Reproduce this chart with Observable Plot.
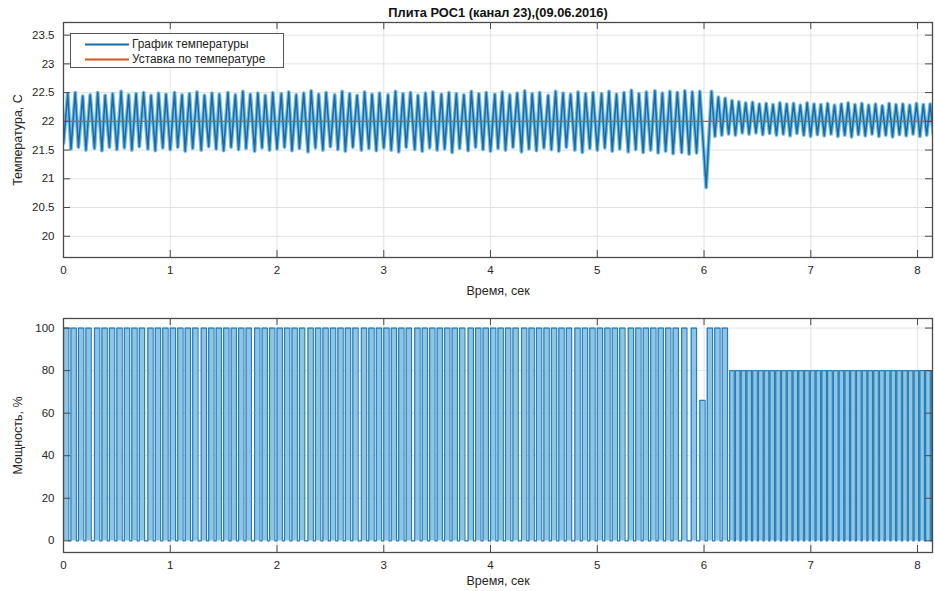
<!DOCTYPE html>
<html>
<head>
<meta charset="utf-8">
<script src="https://cdn.jsdelivr.net/npm/d3@7"></script>
<script src="https://cdn.jsdelivr.net/npm/@observablehq/plot@0.6"></script>
<style>
  body { margin: 0; background: #fff; }
  #chart { position: relative; width: 935px; height: 591px; font-family: "Liberation Sans", Arial, sans-serif; }
  #chart > svg { position: absolute; left: 0; }
  .legend { position: absolute; left: 70px; top: 33px; width: 212px; height: 33px; border: 1px solid #555; background: #fff; font-size: 12.5px; color: #222; }
  .legend .item { position: absolute; left: 0; height: 15px; width: 100%; }
  .legend .item svg { position: absolute; left: 14px; top: 6px; }
  .legend .item span { position: absolute; left: 61px; top: 0; line-height: 15px; white-space: nowrap; transform: scaleX(0.95); transform-origin: left center; }
</style>
</head>
<body>
<div id="chart"></div>
<script>
// ---- Plate temperature record, channel 23 ----
const chartTitle = "Плита РОС1 (канал 23),(09.06.2016)";
const xLabel = "Время, сек";
const tempLabel = "Температура, C";
const powerLabel = "Мощность, %";
const legendLabels = ["График температуры", "Уставка по температуре"];

const timeTicks = [0, 1, 2, 3, 4, 5, 6, 7, 8];
const tempTicks = [20, 20.5, 21, 21.5, 22, 22.5, 23, 23.5];
const powerTicks = [0, 20, 40, 60, 80, 100];

const setpoint = 22;

// temperature samples (turning points of the oscillation), seconds
const tempTime = [
  0.00,0.04,0.07,0.11,0.14,0.18,0.21,0.25,0.29,0.32,0.36,0.39,0.43,0.46,0.50,0.54,0.57,0.61,0.64,0.68,0.71,0.75,0.79,0.82,0.86,0.89,0.93,0.96,
  1.00,1.04,1.07,1.11,1.14,1.18,1.21,1.25,1.29,1.32,1.36,1.39,1.43,1.46,1.50,1.54,1.57,1.61,1.64,1.68,1.71,1.75,1.79,1.82,1.86,1.89,1.93,1.96,
  2.00,2.04,2.07,2.11,2.14,2.18,2.21,2.25,2.29,2.32,2.36,2.39,2.43,2.46,2.50,2.54,2.57,2.61,2.64,2.68,2.71,2.75,2.79,2.82,2.86,2.89,2.93,2.96,
  3.00,3.04,3.07,3.11,3.14,3.18,3.21,3.25,3.29,3.32,3.36,3.39,3.43,3.46,3.50,3.54,3.57,3.61,3.64,3.68,3.71,3.75,3.79,3.82,3.86,3.89,3.93,3.96,
  4.00,4.04,4.07,4.11,4.14,4.18,4.21,4.25,4.29,4.32,4.36,4.39,4.43,4.46,4.50,4.54,4.57,4.61,4.64,4.68,4.71,4.75,4.79,4.82,4.86,4.89,4.93,4.96,
  5.00,5.04,5.07,5.11,5.14,5.18,5.21,5.25,5.29,5.32,5.36,5.39,5.43,5.46,5.50,5.54,5.57,5.61,5.64,5.68,5.71,5.75,5.79,5.82,5.86,5.89,5.93,5.96,
  6.02,
  6.070,6.102,6.134,6.166,6.198,6.230,6.262,6.294,6.326,6.358,6.390,6.422,6.454,6.486,6.518,6.550,6.582,6.614,6.646,6.678,6.710,6.742,
  6.774,6.806,6.838,6.870,6.902,6.934,6.966,6.998,7.030,7.062,7.094,7.126,7.158,7.190,7.222,7.254,7.286,7.318,7.350,7.382,7.414,7.446,
  7.478,7.510,7.542,7.574,7.606,7.638,7.670,7.702,7.734,7.766,7.798,7.830,7.862,7.894,7.926,7.958,7.990,8.022,8.054,8.086,8.118,8.150
];
// temperature, °C
const tempValue = [
  21.62,22.48,21.52,22.50,21.55,22.44,21.50,22.46,21.53,22.50,21.49,22.45,21.55,22.48,21.51,22.52,21.54,22.46,21.50,22.48,21.56,22.50,21.52,22.45,21.49,22.49,21.54,22.47,
  21.51,22.50,21.55,22.46,21.48,22.48,21.53,22.51,21.50,22.45,21.56,22.49,21.52,22.47,21.49,22.50,21.55,22.46,21.51,22.52,21.53,22.47,21.48,22.49,21.54,22.45,21.50,22.50,
  21.52,22.48,21.55,22.51,21.49,22.46,21.53,22.49,21.47,22.53,21.54,22.47,21.50,22.50,21.56,22.46,21.51,22.52,21.48,22.48,21.55,22.45,21.50,22.51,21.53,22.47,21.49,22.49,
  21.54,22.46,21.50,22.52,21.47,22.48,21.55,22.50,21.51,22.45,21.48,22.49,21.54,22.51,21.50,22.47,21.52,22.50,21.46,22.48,21.53,22.46,21.49,22.52,21.55,22.48,21.51,22.50,
  21.48,22.47,21.53,22.51,21.50,22.46,21.55,22.49,21.47,22.53,21.52,22.48,21.49,22.50,21.54,22.45,21.51,22.52,21.48,22.49,21.55,22.47,21.50,22.51,21.46,22.48,21.53,22.50,
  21.50,22.48,21.54,22.52,21.48,22.47,21.52,22.50,21.47,22.54,21.51,22.48,21.46,22.51,21.50,22.53,21.45,22.49,21.48,22.52,21.44,22.50,21.46,22.53,21.43,22.51,21.45,22.52,
  20.85,
  22.52,21.74,22.42,21.76,22.40,21.78,22.36,21.76,22.34,21.80,22.32,21.78,22.33,21.80,22.30,21.77,22.31,21.79,22.29,21.76,22.32,21.78,
  22.30,21.75,22.31,21.79,22.28,21.76,22.32,21.74,22.30,21.77,22.29,21.75,22.31,21.78,22.28,21.74,22.30,21.76,22.32,21.73,22.29,21.77,
  22.31,21.75,22.28,21.78,22.30,21.74,22.27,21.76,22.31,21.73,22.29,21.77,22.30,21.75,22.28,21.78,22.31,21.74,22.29,21.76,22.30,21.75
];

// heater power pulses: switch-on time, switch-off time (s), level (%)
const powerOn = [
  0.00,0.07,0.14,0.21,0.29,0.36,0.43,0.50,0.57,0.64,0.71,0.79,0.86,0.93,
  1.00,1.07,1.14,1.21,1.29,1.36,1.43,1.50,1.57,1.64,1.71,1.79,1.86,1.93,
  2.00,2.07,2.14,2.21,2.29,2.36,2.43,2.50,2.57,2.64,2.71,2.79,2.86,2.93,
  3.00,3.07,3.14,3.21,3.29,3.36,3.43,3.50,3.57,3.64,3.71,3.79,3.86,3.93,
  4.00,4.07,4.14,4.21,4.29,4.36,4.43,4.50,4.57,4.64,4.71,4.79,4.86,4.93,
  5.00,5.07,5.14,5.21,5.29,5.36,5.43,5.50,5.57,5.64,5.71,5.79,5.88,
  5.96,6.03,6.10,6.17,
  6.240,6.294,6.348,6.402,6.456,6.510,6.564,6.618,6.672,6.726,6.780,6.834,6.888,6.942,6.996,7.050,7.104,7.158,
  7.212,7.266,7.320,7.374,7.428,7.482,7.536,7.590,7.644,7.698,7.752,7.806,7.860,7.914,7.968,8.022,8.076,8.130
];
const powerOff = [
  0.05,0.12,0.19,0.26,0.34,0.41,0.48,0.55,0.62,0.69,0.76,0.84,0.91,0.98,
  1.05,1.12,1.19,1.26,1.34,1.41,1.48,1.55,1.62,1.69,1.76,1.84,1.91,1.98,
  2.05,2.12,2.19,2.26,2.34,2.41,2.48,2.55,2.62,2.69,2.76,2.84,2.91,2.98,
  3.05,3.12,3.19,3.26,3.34,3.41,3.48,3.55,3.62,3.69,3.76,3.84,3.91,3.98,
  4.05,4.12,4.19,4.26,4.34,4.41,4.48,4.55,4.62,4.69,4.76,4.84,4.91,4.98,
  5.05,5.12,5.19,5.26,5.34,5.41,5.48,5.55,5.62,5.69,5.76,5.84,5.93,
  6.01,6.08,6.15,6.22,
  6.282,6.336,6.390,6.444,6.498,6.552,6.606,6.660,6.714,6.768,6.822,6.876,6.930,6.984,7.038,7.092,7.146,7.200,
  7.254,7.308,7.362,7.416,7.470,7.524,7.578,7.632,7.686,7.740,7.794,7.848,7.902,7.956,8.010,8.064,8.118,8.172
];
const powerLevel = [
  100,100,100,100,100,100,100,100,100,100,100,100,100,100,
  100,100,100,100,100,100,100,100,100,100,100,100,100,100,
  100,100,100,100,100,100,100,100,100,100,100,100,100,100,
  100,100,100,100,100,100,100,100,100,100,100,100,100,100,
  100,100,100,100,100,100,100,100,100,100,100,100,100,100,
  100,100,100,100,100,100,100,100,100,100,100,100,100,
  66,100,100,100,
  80,80,80,80,80,80,80,80,80,80,80,80,80,80,80,80,80,80,
  80,80,80,80,80,80,80,80,80,80,80,80,80,80,80,80,80,80
];

// ---- layout & style ----
const FONT = '"Liberation Sans", Arial, sans-serif';
const W = 935;
const xDomain = [0, 8.14];
const tempDomain = [19.63, 23.72];
const powerDomain = [-5.5, 104.5];
const C = {
  text: "#262626", axis: "#4a4a4a", grid: "#e2e2e2",
  tempDark: "#1b6aa3", tempLight: "#72bde8",
  powerFill: "#8cc6e6", powerEdge: "#2a7cb7",
  setpoint: "#D95319"
};
const tickFmt = d3.format("~g");

const temps = tempTime.map((t, i) => ({t, v: tempValue[i]})).filter(d => d.v != null);
const pulses = powerOn.map((on, i) => ({on, off: powerOff[i], level: powerLevel[i]}));
const pulseOutline = pulses.flatMap(p => [
  {t: p.on, v: 0}, {t: p.on, v: p.level}, {t: p.off, v: p.level}, {t: p.off, v: 0}
]);

function boxTicks(yDom, plotH, plotW, yTicks) {
  const len = 7;
  const dy = len / plotH * (yDom[1] - yDom[0]);
  const dx = len / plotW * (xDomain[1] - xDomain[0]);
  const s = {stroke: C.axis, strokeWidth: 1};
  return [
    Plot.ruleX(timeTicks, {x: d => d, y1: yDom[0], y2: yDom[0] + dy, ...s}),
    Plot.ruleX(timeTicks, {x: d => d, y1: yDom[1] - dy, y2: yDom[1], ...s}),
    Plot.ruleY(yTicks, {y: d => d, x1: xDomain[0], x2: xDomain[0] + dx, ...s}),
    Plot.ruleY(yTicks, {y: d => d, x1: xDomain[1] - dx, x2: xDomain[1], ...s})
  ];
}

function panel({height, marginTop, marginBottom, yDomain, yTicks, yLabel, xLabelOffset, data, extra}) {
  const marginLeft = 63, marginRight = 3;
  const plotH = height - marginTop - marginBottom;
  const plotW = W - marginLeft - marginRight;
  return Plot.plot({
    width: W, height, marginLeft, marginRight, marginTop, marginBottom,
    style: {fontFamily: FONT, fontSize: "11.5px", color: C.text, background: "transparent"},
    x: {domain: xDomain, label: null},
    y: {domain: yDomain, label: null},
    marks: [
      Plot.gridX(timeTicks, {stroke: C.grid, strokeOpacity: 1}),
      Plot.gridY(yTicks, {stroke: C.grid, strokeOpacity: 1}),
      ...data,
      Plot.frame({stroke: C.axis, strokeWidth: 1.3}),
      ...boxTicks(yDomain, plotH, plotW, yTicks),
      Plot.axisX(timeTicks, {tickSize: 0, tickPadding: 8, label: null, fill: C.text, tickFormat: tickFmt}),
      Plot.axisY(yTicks, {tickSize: 0, tickPadding: 9, label: null, fill: C.text, tickFormat: tickFmt}),
      Plot.text([xLabel], {text: d => d, frameAnchor: "bottom", dy: xLabelOffset, textAnchor: "middle", lineAnchor: "middle", fill: C.text, fontSize: 12.5}),
      Plot.text([yLabel], {text: d => d, frameAnchor: "left", dx: -46, rotate: -90, textAnchor: "middle", lineAnchor: "middle", fill: C.text, fontSize: 12.5}),
      ...(extra || [])
    ]
  });
}

const topChart = panel({
  height: 300, marginTop: 22, marginBottom: 43,
  yDomain: tempDomain, yTicks: tempTicks, yLabel: tempLabel, xLabelOffset: 33,
  data: [
    Plot.line(temps, {x: "t", y: "v", stroke: C.tempLight, strokeWidth: 3.8, clip: true}),
    Plot.line(temps, {x: "t", y: "v", stroke: C.tempDark, strokeWidth: 1.5, clip: true}),
    Plot.ruleY([setpoint], {stroke: C.setpoint, strokeWidth: 1.2})
  ],
  extra: [
    Plot.text([chartTitle], {text: d => d, frameAnchor: "top", dy: -10, textAnchor: "middle", lineAnchor: "middle", fontWeight: "bold", fontSize: 12.8, fill: "#111"})
  ]
});
topChart.style.top = "0px";

const bottomChart = panel({
  height: 291, marginTop: 18, marginBottom: 39,
  yDomain: powerDomain, yTicks: powerTicks, yLabel: powerLabel, xLabelOffset: 28,
  data: [
    Plot.rect(pulses, {x1: "on", x2: "off", y1: 0, y2: "level", fill: C.powerFill, clip: true}),
    Plot.line(pulseOutline, {x: "t", y: "v", stroke: C.powerEdge, strokeWidth: 1.2, clip: true})
  ]
});
bottomChart.style.top = "300px";

const chart = document.getElementById("chart");
chart.append(topChart, bottomChart);

// legend box for the temperature panel
const legend = document.createElement("div");
legend.className = "legend";
const legendColors = [C.tempDark, C.setpoint];
legendLabels.forEach((label, i) => {
  const item = document.createElement("div");
  item.className = "item";
  item.style.top = (3 + i * 15) + "px";
  item.innerHTML = `<svg width="44" height="3"><line x1="0" x2="44" y1="1.5" y2="1.5" stroke="${legendColors[i]}" stroke-width="1.8"/></svg><span>${label}</span>`;
  legend.append(item);
});
chart.append(legend);
</script>
</body>
</html>
